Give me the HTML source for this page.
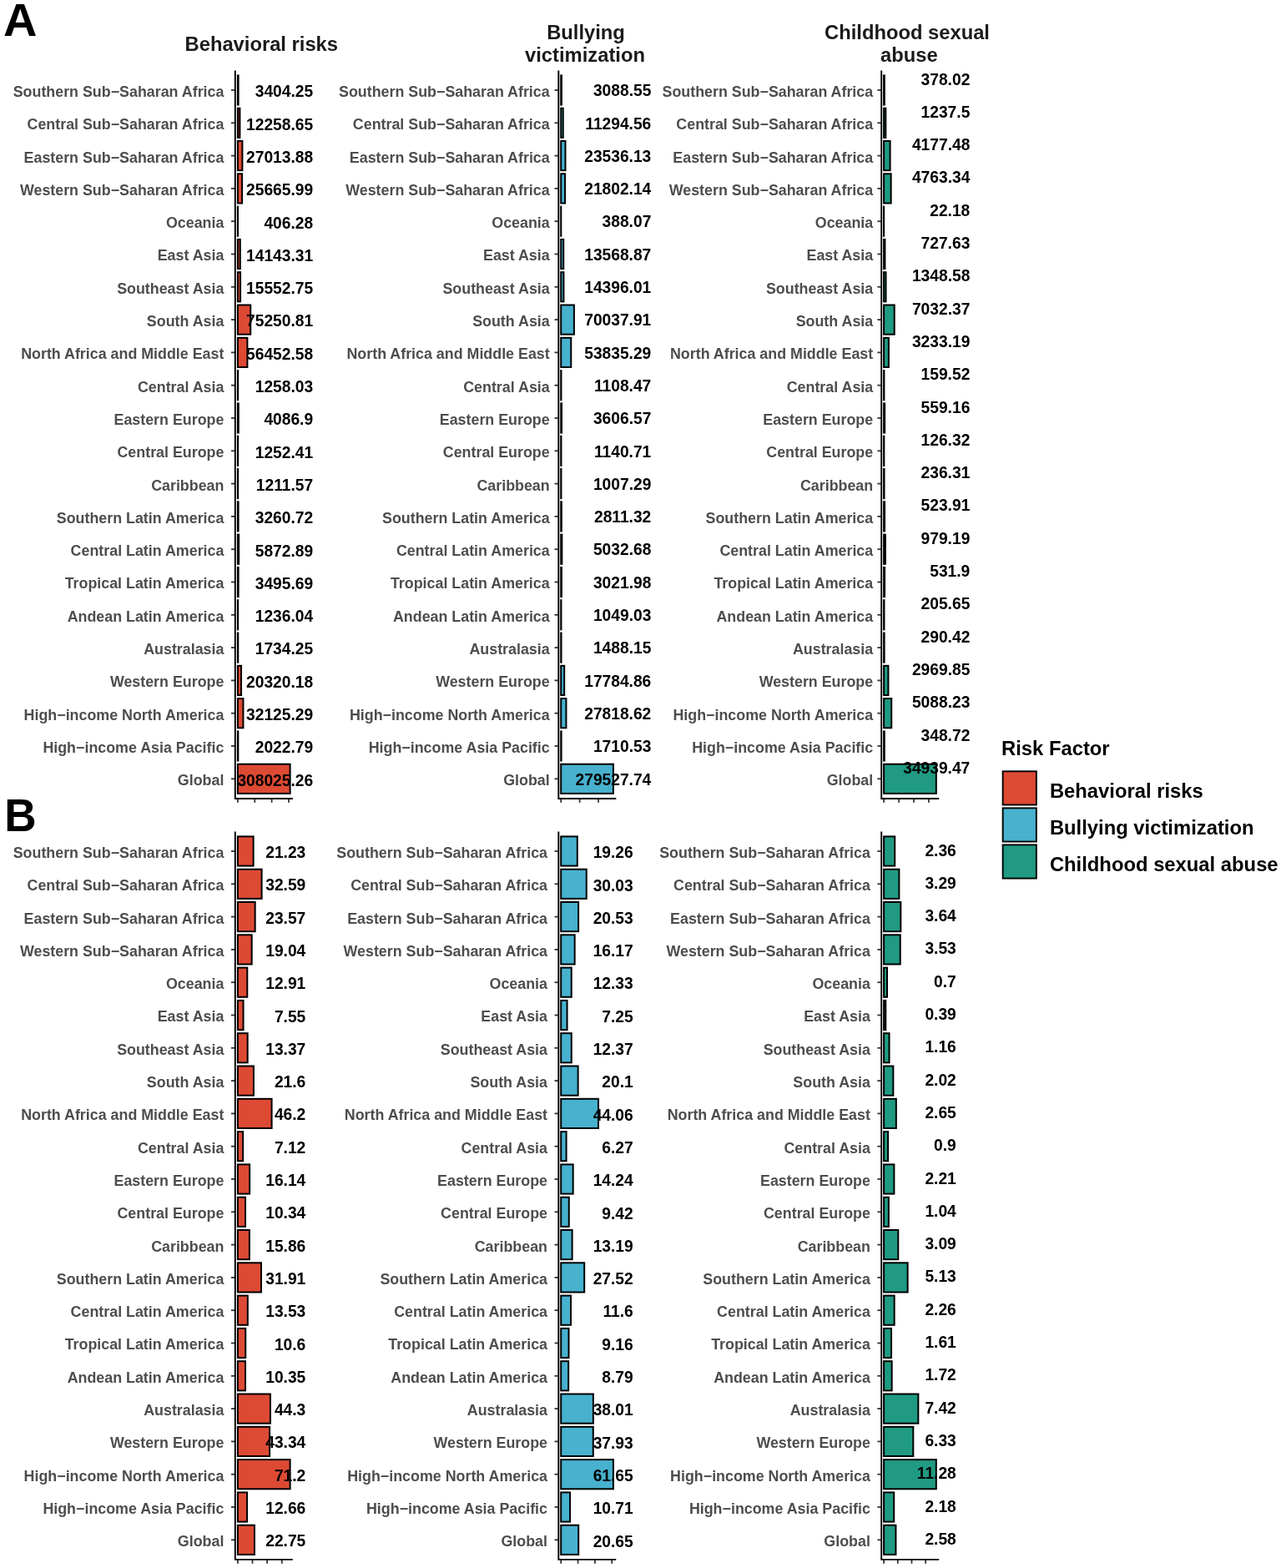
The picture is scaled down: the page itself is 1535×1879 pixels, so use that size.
<!DOCTYPE html>
<html lang="en">
<head>
<meta charset="utf-8">
<title>Risk factor burden by region</title>
<style>
html,body{margin:0;padding:0;background:#fff;}
body{width:1535px;height:1879px;overflow:hidden;}
svg{display:block;font-family:"Liberation Sans",Arial,Helvetica,sans-serif;font-weight:700;}
.lab text{font-size:17.85px;fill:#4D4D4D;}
.val text{font-size:19.2px;fill:#000;}
.ttl text{font-size:23.75px;fill:#1A1A1A;}
.leg text{font-size:23.8px;fill:#000;}
.tag text{font-size:56px;fill:#000;}
</style>
</head>
<body>
<svg width="1535" height="1879" viewBox="0 0 1535 1879">
<rect width="1535" height="1879" fill="#fff"/>
<g class="panel">
<g fill="#DD4A34" stroke="#000" stroke-width="2">
<rect x="284.9" y="90.4" width="0.69" height="35.2"/>
<rect x="284.9" y="129.7" width="2.5" height="35.2"/>
<rect x="284.9" y="169" width="5.5" height="35.2"/>
<rect x="284.9" y="208.3" width="5.22" height="35.2"/>
<rect x="284.9" y="247.6" width="0.08" height="35.2"/>
<rect x="284.9" y="286.9" width="2.88" height="35.2"/>
<rect x="284.9" y="326.2" width="3.17" height="35.2"/>
<rect x="284.9" y="365.5" width="15.32" height="35.2"/>
<rect x="284.9" y="404.8" width="11.49" height="35.2"/>
<rect x="284.9" y="444.1" width="0.26" height="35.2"/>
<rect x="284.9" y="483.4" width="0.83" height="35.2"/>
<rect x="284.9" y="522.7" width="0.25" height="35.2"/>
<rect x="284.9" y="562" width="0.25" height="35.2"/>
<rect x="284.9" y="601.3" width="0.66" height="35.2"/>
<rect x="284.9" y="640.6" width="1.2" height="35.2"/>
<rect x="284.9" y="679.9" width="0.71" height="35.2"/>
<rect x="284.9" y="719.2" width="0.25" height="35.2"/>
<rect x="284.9" y="758.5" width="0.35" height="35.2"/>
<rect x="284.9" y="797.8" width="4.14" height="35.2"/>
<rect x="284.9" y="837.1" width="6.54" height="35.2"/>
<rect x="284.9" y="876.4" width="0.41" height="35.2"/>
<rect x="284.9" y="915.7" width="62.7" height="35.2"/>
</g>
<g class="val" text-anchor="end">
<text transform="translate(375.1 116.3) scale(1 1.05)">3404.25</text>
<text transform="translate(375.1 155.6) scale(1 1.05)">12258.65</text>
<text transform="translate(375.1 194.9) scale(1 1.05)">27013.88</text>
<text transform="translate(375.1 234.2) scale(1 1.05)">25665.99</text>
<text transform="translate(375.1 273.5) scale(1 1.05)">406.28</text>
<text transform="translate(375.1 312.8) scale(1 1.05)">14143.31</text>
<text transform="translate(375.1 352.1) scale(1 1.05)">15552.75</text>
<text transform="translate(375.1 391.4) scale(1 1.05)">75250.81</text>
<text transform="translate(375.1 430.7) scale(1 1.05)">56452.58</text>
<text transform="translate(375.1 470) scale(1 1.05)">1258.03</text>
<text transform="translate(375.1 509.3) scale(1 1.05)">4086.9</text>
<text transform="translate(375.1 548.6) scale(1 1.05)">1252.41</text>
<text transform="translate(375.1 587.9) scale(1 1.05)">1211.57</text>
<text transform="translate(375.1 627.2) scale(1 1.05)">3260.72</text>
<text transform="translate(375.1 666.5) scale(1 1.05)">5872.89</text>
<text transform="translate(375.1 705.8) scale(1 1.05)">3495.69</text>
<text transform="translate(375.1 745.1) scale(1 1.05)">1236.04</text>
<text transform="translate(375.1 784.4) scale(1 1.05)">1734.25</text>
<text transform="translate(375.1 823.7) scale(1 1.05)">20320.18</text>
<text transform="translate(375.1 863) scale(1 1.05)">32125.29</text>
<text transform="translate(375.1 902.3) scale(1 1.05)">2022.79</text>
<text transform="translate(375.1 941.6) scale(1 1.05)">308025.26</text>
</g>
<g class="lab" text-anchor="end">
<text x="268.4" y="115.9">Southern Sub−Saharan Africa</text>
<text x="268.4" y="155.2">Central Sub−Saharan Africa</text>
<text x="268.4" y="194.5">Eastern Sub−Saharan Africa</text>
<text x="268.4" y="233.8">Western Sub−Saharan Africa</text>
<text x="268.4" y="273.1">Oceania</text>
<text x="268.4" y="312.4">East Asia</text>
<text x="268.4" y="351.7">Southeast Asia</text>
<text x="268.4" y="391">South Asia</text>
<text x="268.4" y="430.3">North Africa and Middle East</text>
<text x="268.4" y="469.6">Central Asia</text>
<text x="268.4" y="508.9">Eastern Europe</text>
<text x="268.4" y="548.2">Central Europe</text>
<text x="268.4" y="587.5">Caribbean</text>
<text x="268.4" y="626.8">Southern Latin America</text>
<text x="268.4" y="666.1">Central Latin America</text>
<text x="268.4" y="705.4">Tropical Latin America</text>
<text x="268.4" y="744.7">Andean Latin America</text>
<text x="268.4" y="784">Australasia</text>
<text x="268.4" y="823.3">Western Europe</text>
<text x="268.4" y="862.6">High−income North America</text>
<text x="268.4" y="901.9">High−income Asia Pacific</text>
<text x="268.4" y="941.2">Global</text>
</g>
<g stroke="#333333" stroke-width="1.8">
<line x1="277" y1="108" x2="281.8" y2="108"/>
<line x1="277" y1="147.3" x2="281.8" y2="147.3"/>
<line x1="277" y1="186.6" x2="281.8" y2="186.6"/>
<line x1="277" y1="225.9" x2="281.8" y2="225.9"/>
<line x1="277" y1="265.2" x2="281.8" y2="265.2"/>
<line x1="277" y1="304.5" x2="281.8" y2="304.5"/>
<line x1="277" y1="343.8" x2="281.8" y2="343.8"/>
<line x1="277" y1="383.1" x2="281.8" y2="383.1"/>
<line x1="277" y1="422.4" x2="281.8" y2="422.4"/>
<line x1="277" y1="461.7" x2="281.8" y2="461.7"/>
<line x1="277" y1="501" x2="281.8" y2="501"/>
<line x1="277" y1="540.3" x2="281.8" y2="540.3"/>
<line x1="277" y1="579.6" x2="281.8" y2="579.6"/>
<line x1="277" y1="618.9" x2="281.8" y2="618.9"/>
<line x1="277" y1="658.2" x2="281.8" y2="658.2"/>
<line x1="277" y1="697.5" x2="281.8" y2="697.5"/>
<line x1="277" y1="736.8" x2="281.8" y2="736.8"/>
<line x1="277" y1="776.1" x2="281.8" y2="776.1"/>
<line x1="277" y1="815.4" x2="281.8" y2="815.4"/>
<line x1="277" y1="854.7" x2="281.8" y2="854.7"/>
<line x1="277" y1="894" x2="281.8" y2="894"/>
<line x1="277" y1="933.3" x2="281.8" y2="933.3"/>
<line x1="284.9" y1="957" x2="284.9" y2="961.8"/>
<line x1="305.26" y1="957" x2="305.26" y2="961.8"/>
<line x1="325.61" y1="957" x2="325.61" y2="961.8"/>
<line x1="345.97" y1="957" x2="345.97" y2="961.8"/>
</g>
<polyline points="281.8,84.6 281.8,957 350.8,957" fill="none" stroke="#000" stroke-width="1.9"/>
</g>
<g class="panel">
<g fill="#47B1CE" stroke="#000" stroke-width="2">
<rect x="672.2" y="90.4" width="0.69" height="35.2"/>
<rect x="672.2" y="129.7" width="2.53" height="35.2"/>
<rect x="672.2" y="169" width="5.28" height="35.2"/>
<rect x="672.2" y="208.3" width="4.89" height="35.2"/>
<rect x="672.2" y="247.6" width="0.09" height="35.2"/>
<rect x="672.2" y="286.9" width="3.04" height="35.2"/>
<rect x="672.2" y="326.2" width="3.23" height="35.2"/>
<rect x="672.2" y="365.5" width="15.71" height="35.2"/>
<rect x="672.2" y="404.8" width="12.08" height="35.2"/>
<rect x="672.2" y="444.1" width="0.25" height="35.2"/>
<rect x="672.2" y="483.4" width="0.81" height="35.2"/>
<rect x="672.2" y="522.7" width="0.26" height="35.2"/>
<rect x="672.2" y="562" width="0.23" height="35.2"/>
<rect x="672.2" y="601.3" width="0.63" height="35.2"/>
<rect x="672.2" y="640.6" width="1.13" height="35.2"/>
<rect x="672.2" y="679.9" width="0.68" height="35.2"/>
<rect x="672.2" y="719.2" width="0.24" height="35.2"/>
<rect x="672.2" y="758.5" width="0.33" height="35.2"/>
<rect x="672.2" y="797.8" width="3.99" height="35.2"/>
<rect x="672.2" y="837.1" width="6.24" height="35.2"/>
<rect x="672.2" y="876.4" width="0.38" height="35.2"/>
<rect x="672.2" y="915.7" width="62.7" height="35.2"/>
</g>
<g class="val" text-anchor="end">
<text transform="translate(780.3 115.2) scale(1 1.05)">3088.55</text>
<text transform="translate(780.3 154.5) scale(1 1.05)">11294.56</text>
<text transform="translate(780.3 193.8) scale(1 1.05)">23536.13</text>
<text transform="translate(780.3 233.1) scale(1 1.05)">21802.14</text>
<text transform="translate(780.3 272.4) scale(1 1.05)">388.07</text>
<text transform="translate(780.3 311.7) scale(1 1.05)">13568.87</text>
<text transform="translate(780.3 351) scale(1 1.05)">14396.01</text>
<text transform="translate(780.3 390.3) scale(1 1.05)">70037.91</text>
<text transform="translate(780.3 429.6) scale(1 1.05)">53835.29</text>
<text transform="translate(780.3 468.9) scale(1 1.05)">1108.47</text>
<text transform="translate(780.3 508.2) scale(1 1.05)">3606.57</text>
<text transform="translate(780.3 547.5) scale(1 1.05)">1140.71</text>
<text transform="translate(780.3 586.8) scale(1 1.05)">1007.29</text>
<text transform="translate(780.3 626.1) scale(1 1.05)">2811.32</text>
<text transform="translate(780.3 665.4) scale(1 1.05)">5032.68</text>
<text transform="translate(780.3 704.7) scale(1 1.05)">3021.98</text>
<text transform="translate(780.3 744) scale(1 1.05)">1049.03</text>
<text transform="translate(780.3 783.3) scale(1 1.05)">1488.15</text>
<text transform="translate(780.3 822.6) scale(1 1.05)">17784.86</text>
<text transform="translate(780.3 861.9) scale(1 1.05)">27818.62</text>
<text transform="translate(780.3 901.2) scale(1 1.05)">1710.53</text>
<text transform="translate(780.3 940.5) scale(1 1.05)">279527.74</text>
</g>
<g class="lab" text-anchor="end">
<text x="658.7" y="115.9">Southern Sub−Saharan Africa</text>
<text x="658.7" y="155.2">Central Sub−Saharan Africa</text>
<text x="658.7" y="194.5">Eastern Sub−Saharan Africa</text>
<text x="658.7" y="233.8">Western Sub−Saharan Africa</text>
<text x="658.7" y="273.1">Oceania</text>
<text x="658.7" y="312.4">East Asia</text>
<text x="658.7" y="351.7">Southeast Asia</text>
<text x="658.7" y="391">South Asia</text>
<text x="658.7" y="430.3">North Africa and Middle East</text>
<text x="658.7" y="469.6">Central Asia</text>
<text x="658.7" y="508.9">Eastern Europe</text>
<text x="658.7" y="548.2">Central Europe</text>
<text x="658.7" y="587.5">Caribbean</text>
<text x="658.7" y="626.8">Southern Latin America</text>
<text x="658.7" y="666.1">Central Latin America</text>
<text x="658.7" y="705.4">Tropical Latin America</text>
<text x="658.7" y="744.7">Andean Latin America</text>
<text x="658.7" y="784">Australasia</text>
<text x="658.7" y="823.3">Western Europe</text>
<text x="658.7" y="862.6">High−income North America</text>
<text x="658.7" y="901.9">High−income Asia Pacific</text>
<text x="658.7" y="941.2">Global</text>
</g>
<g stroke="#333333" stroke-width="1.8">
<line x1="664.5" y1="108" x2="669.3" y2="108"/>
<line x1="664.5" y1="147.3" x2="669.3" y2="147.3"/>
<line x1="664.5" y1="186.6" x2="669.3" y2="186.6"/>
<line x1="664.5" y1="225.9" x2="669.3" y2="225.9"/>
<line x1="664.5" y1="265.2" x2="669.3" y2="265.2"/>
<line x1="664.5" y1="304.5" x2="669.3" y2="304.5"/>
<line x1="664.5" y1="343.8" x2="669.3" y2="343.8"/>
<line x1="664.5" y1="383.1" x2="669.3" y2="383.1"/>
<line x1="664.5" y1="422.4" x2="669.3" y2="422.4"/>
<line x1="664.5" y1="461.7" x2="669.3" y2="461.7"/>
<line x1="664.5" y1="501" x2="669.3" y2="501"/>
<line x1="664.5" y1="540.3" x2="669.3" y2="540.3"/>
<line x1="664.5" y1="579.6" x2="669.3" y2="579.6"/>
<line x1="664.5" y1="618.9" x2="669.3" y2="618.9"/>
<line x1="664.5" y1="658.2" x2="669.3" y2="658.2"/>
<line x1="664.5" y1="697.5" x2="669.3" y2="697.5"/>
<line x1="664.5" y1="736.8" x2="669.3" y2="736.8"/>
<line x1="664.5" y1="776.1" x2="669.3" y2="776.1"/>
<line x1="664.5" y1="815.4" x2="669.3" y2="815.4"/>
<line x1="664.5" y1="854.7" x2="669.3" y2="854.7"/>
<line x1="664.5" y1="894" x2="669.3" y2="894"/>
<line x1="664.5" y1="933.3" x2="669.3" y2="933.3"/>
<line x1="672.2" y1="957" x2="672.2" y2="961.8"/>
<line x1="694.63" y1="957" x2="694.63" y2="961.8"/>
<line x1="717.06" y1="957" x2="717.06" y2="961.8"/>
</g>
<polyline points="669.3,84.6 669.3,957 738.3,957" fill="none" stroke="#000" stroke-width="1.9"/>
</g>
<g class="panel">
<g fill="#209A82" stroke="#000" stroke-width="2">
<rect x="1059.1" y="90.4" width="0.68" height="35.2"/>
<rect x="1059.1" y="129.7" width="2.22" height="35.2"/>
<rect x="1059.1" y="169" width="7.5" height="35.2"/>
<rect x="1059.1" y="208.3" width="8.55" height="35.2"/>
<rect x="1059.1" y="247.6" width="0.04" height="35.2"/>
<rect x="1059.1" y="286.9" width="1.31" height="35.2"/>
<rect x="1059.1" y="326.2" width="2.42" height="35.2"/>
<rect x="1059.1" y="365.5" width="12.62" height="35.2"/>
<rect x="1059.1" y="404.8" width="5.8" height="35.2"/>
<rect x="1059.1" y="444.1" width="0.29" height="35.2"/>
<rect x="1059.1" y="483.4" width="1" height="35.2"/>
<rect x="1059.1" y="522.7" width="0.23" height="35.2"/>
<rect x="1059.1" y="562" width="0.42" height="35.2"/>
<rect x="1059.1" y="601.3" width="0.94" height="35.2"/>
<rect x="1059.1" y="640.6" width="1.76" height="35.2"/>
<rect x="1059.1" y="679.9" width="0.95" height="35.2"/>
<rect x="1059.1" y="719.2" width="0.37" height="35.2"/>
<rect x="1059.1" y="758.5" width="0.52" height="35.2"/>
<rect x="1059.1" y="797.8" width="5.33" height="35.2"/>
<rect x="1059.1" y="837.1" width="9.13" height="35.2"/>
<rect x="1059.1" y="876.4" width="0.63" height="35.2"/>
<rect x="1059.1" y="915.7" width="62.7" height="35.2"/>
</g>
<g class="val" text-anchor="end">
<text transform="translate(1162.3 101.5) scale(1 1.05)">378.02</text>
<text transform="translate(1162.3 140.8) scale(1 1.05)">1237.5</text>
<text transform="translate(1162.3 180.1) scale(1 1.05)">4177.48</text>
<text transform="translate(1162.3 219.4) scale(1 1.05)">4763.34</text>
<text transform="translate(1162.3 258.7) scale(1 1.05)">22.18</text>
<text transform="translate(1162.3 298) scale(1 1.05)">727.63</text>
<text transform="translate(1162.3 337.3) scale(1 1.05)">1348.58</text>
<text transform="translate(1162.3 376.6) scale(1 1.05)">7032.37</text>
<text transform="translate(1162.3 415.9) scale(1 1.05)">3233.19</text>
<text transform="translate(1162.3 455.2) scale(1 1.05)">159.52</text>
<text transform="translate(1162.3 494.5) scale(1 1.05)">559.16</text>
<text transform="translate(1162.3 533.8) scale(1 1.05)">126.32</text>
<text transform="translate(1162.3 573.1) scale(1 1.05)">236.31</text>
<text transform="translate(1162.3 612.4) scale(1 1.05)">523.91</text>
<text transform="translate(1162.3 651.7) scale(1 1.05)">979.19</text>
<text transform="translate(1162.3 691) scale(1 1.05)">531.9</text>
<text transform="translate(1162.3 730.3) scale(1 1.05)">205.65</text>
<text transform="translate(1162.3 769.6) scale(1 1.05)">290.42</text>
<text transform="translate(1162.3 808.9) scale(1 1.05)">2969.85</text>
<text transform="translate(1162.3 848.2) scale(1 1.05)">5088.23</text>
<text transform="translate(1162.3 887.5) scale(1 1.05)">348.72</text>
<text transform="translate(1162.3 926.8) scale(1 1.05)">34939.47</text>
</g>
<g class="lab" text-anchor="end">
<text x="1046.2" y="115.9">Southern Sub−Saharan Africa</text>
<text x="1046.2" y="155.2">Central Sub−Saharan Africa</text>
<text x="1046.2" y="194.5">Eastern Sub−Saharan Africa</text>
<text x="1046.2" y="233.8">Western Sub−Saharan Africa</text>
<text x="1046.2" y="273.1">Oceania</text>
<text x="1046.2" y="312.4">East Asia</text>
<text x="1046.2" y="351.7">Southeast Asia</text>
<text x="1046.2" y="391">South Asia</text>
<text x="1046.2" y="430.3">North Africa and Middle East</text>
<text x="1046.2" y="469.6">Central Asia</text>
<text x="1046.2" y="508.9">Eastern Europe</text>
<text x="1046.2" y="548.2">Central Europe</text>
<text x="1046.2" y="587.5">Caribbean</text>
<text x="1046.2" y="626.8">Southern Latin America</text>
<text x="1046.2" y="666.1">Central Latin America</text>
<text x="1046.2" y="705.4">Tropical Latin America</text>
<text x="1046.2" y="744.7">Andean Latin America</text>
<text x="1046.2" y="784">Australasia</text>
<text x="1046.2" y="823.3">Western Europe</text>
<text x="1046.2" y="862.6">High−income North America</text>
<text x="1046.2" y="901.9">High−income Asia Pacific</text>
<text x="1046.2" y="941.2">Global</text>
</g>
<g stroke="#333333" stroke-width="1.8">
<line x1="1051.4" y1="108" x2="1056.2" y2="108"/>
<line x1="1051.4" y1="147.3" x2="1056.2" y2="147.3"/>
<line x1="1051.4" y1="186.6" x2="1056.2" y2="186.6"/>
<line x1="1051.4" y1="225.9" x2="1056.2" y2="225.9"/>
<line x1="1051.4" y1="265.2" x2="1056.2" y2="265.2"/>
<line x1="1051.4" y1="304.5" x2="1056.2" y2="304.5"/>
<line x1="1051.4" y1="343.8" x2="1056.2" y2="343.8"/>
<line x1="1051.4" y1="383.1" x2="1056.2" y2="383.1"/>
<line x1="1051.4" y1="422.4" x2="1056.2" y2="422.4"/>
<line x1="1051.4" y1="461.7" x2="1056.2" y2="461.7"/>
<line x1="1051.4" y1="501" x2="1056.2" y2="501"/>
<line x1="1051.4" y1="540.3" x2="1056.2" y2="540.3"/>
<line x1="1051.4" y1="579.6" x2="1056.2" y2="579.6"/>
<line x1="1051.4" y1="618.9" x2="1056.2" y2="618.9"/>
<line x1="1051.4" y1="658.2" x2="1056.2" y2="658.2"/>
<line x1="1051.4" y1="697.5" x2="1056.2" y2="697.5"/>
<line x1="1051.4" y1="736.8" x2="1056.2" y2="736.8"/>
<line x1="1051.4" y1="776.1" x2="1056.2" y2="776.1"/>
<line x1="1051.4" y1="815.4" x2="1056.2" y2="815.4"/>
<line x1="1051.4" y1="854.7" x2="1056.2" y2="854.7"/>
<line x1="1051.4" y1="894" x2="1056.2" y2="894"/>
<line x1="1051.4" y1="933.3" x2="1056.2" y2="933.3"/>
<line x1="1059.1" y1="957" x2="1059.1" y2="961.8"/>
<line x1="1077.05" y1="957" x2="1077.05" y2="961.8"/>
<line x1="1094.99" y1="957" x2="1094.99" y2="961.8"/>
<line x1="1112.94" y1="957" x2="1112.94" y2="961.8"/>
</g>
<polyline points="1056.2,84.6 1056.2,957 1125.2,957" fill="none" stroke="#000" stroke-width="1.9"/>
</g>
<g class="panel">
<g fill="#DD4A34" stroke="#000" stroke-width="2">
<rect x="284.9" y="1002.4" width="18.7" height="35.2"/>
<rect x="284.9" y="1041.7" width="28.7" height="35.2"/>
<rect x="284.9" y="1081" width="20.76" height="35.2"/>
<rect x="284.9" y="1120.3" width="16.77" height="35.2"/>
<rect x="284.9" y="1159.6" width="11.37" height="35.2"/>
<rect x="284.9" y="1198.9" width="6.65" height="35.2"/>
<rect x="284.9" y="1238.2" width="11.77" height="35.2"/>
<rect x="284.9" y="1277.5" width="19.02" height="35.2"/>
<rect x="284.9" y="1316.8" width="40.68" height="35.2"/>
<rect x="284.9" y="1356.1" width="6.27" height="35.2"/>
<rect x="284.9" y="1395.4" width="14.21" height="35.2"/>
<rect x="284.9" y="1434.7" width="9.11" height="35.2"/>
<rect x="284.9" y="1474" width="13.97" height="35.2"/>
<rect x="284.9" y="1513.3" width="28.1" height="35.2"/>
<rect x="284.9" y="1552.6" width="11.91" height="35.2"/>
<rect x="284.9" y="1591.9" width="9.33" height="35.2"/>
<rect x="284.9" y="1631.2" width="9.11" height="35.2"/>
<rect x="284.9" y="1670.5" width="39.01" height="35.2"/>
<rect x="284.9" y="1709.8" width="38.17" height="35.2"/>
<rect x="284.9" y="1749.1" width="62.7" height="35.2"/>
<rect x="284.9" y="1788.4" width="11.15" height="35.2"/>
<rect x="284.9" y="1827.7" width="20.03" height="35.2"/>
</g>
<g class="val" text-anchor="end">
<text transform="translate(366.3 1028) scale(1 1.05)">21.23</text>
<text transform="translate(366.3 1067.3) scale(1 1.05)">32.59</text>
<text transform="translate(366.3 1106.6) scale(1 1.05)">23.57</text>
<text transform="translate(366.3 1145.9) scale(1 1.05)">19.04</text>
<text transform="translate(366.3 1185.2) scale(1 1.05)">12.91</text>
<text transform="translate(366.3 1224.5) scale(1 1.05)">7.55</text>
<text transform="translate(366.3 1263.8) scale(1 1.05)">13.37</text>
<text transform="translate(366.3 1303.1) scale(1 1.05)">21.6</text>
<text transform="translate(366.3 1342.4) scale(1 1.05)">46.2</text>
<text transform="translate(366.3 1381.7) scale(1 1.05)">7.12</text>
<text transform="translate(366.3 1421) scale(1 1.05)">16.14</text>
<text transform="translate(366.3 1460.3) scale(1 1.05)">10.34</text>
<text transform="translate(366.3 1499.6) scale(1 1.05)">15.86</text>
<text transform="translate(366.3 1538.9) scale(1 1.05)">31.91</text>
<text transform="translate(366.3 1578.2) scale(1 1.05)">13.53</text>
<text transform="translate(366.3 1617.5) scale(1 1.05)">10.6</text>
<text transform="translate(366.3 1656.8) scale(1 1.05)">10.35</text>
<text transform="translate(366.3 1696.1) scale(1 1.05)">44.3</text>
<text transform="translate(366.3 1735.4) scale(1 1.05)">43.34</text>
<text transform="translate(366.3 1774.7) scale(1 1.05)">71.2</text>
<text transform="translate(366.3 1814) scale(1 1.05)">12.66</text>
<text transform="translate(366.3 1853.3) scale(1 1.05)">22.75</text>
</g>
<g class="lab" text-anchor="end">
<text x="268.4" y="1027.9">Southern Sub−Saharan Africa</text>
<text x="268.4" y="1067.2">Central Sub−Saharan Africa</text>
<text x="268.4" y="1106.5">Eastern Sub−Saharan Africa</text>
<text x="268.4" y="1145.8">Western Sub−Saharan Africa</text>
<text x="268.4" y="1185.1">Oceania</text>
<text x="268.4" y="1224.4">East Asia</text>
<text x="268.4" y="1263.7">Southeast Asia</text>
<text x="268.4" y="1303">South Asia</text>
<text x="268.4" y="1342.3">North Africa and Middle East</text>
<text x="268.4" y="1381.6">Central Asia</text>
<text x="268.4" y="1420.9">Eastern Europe</text>
<text x="268.4" y="1460.2">Central Europe</text>
<text x="268.4" y="1499.5">Caribbean</text>
<text x="268.4" y="1538.8">Southern Latin America</text>
<text x="268.4" y="1578.1">Central Latin America</text>
<text x="268.4" y="1617.4">Tropical Latin America</text>
<text x="268.4" y="1656.7">Andean Latin America</text>
<text x="268.4" y="1696">Australasia</text>
<text x="268.4" y="1735.3">Western Europe</text>
<text x="268.4" y="1774.6">High−income North America</text>
<text x="268.4" y="1813.9">High−income Asia Pacific</text>
<text x="268.4" y="1853.2">Global</text>
</g>
<g stroke="#333333" stroke-width="1.8">
<line x1="277" y1="1020" x2="281.8" y2="1020"/>
<line x1="277" y1="1059.3" x2="281.8" y2="1059.3"/>
<line x1="277" y1="1098.6" x2="281.8" y2="1098.6"/>
<line x1="277" y1="1137.9" x2="281.8" y2="1137.9"/>
<line x1="277" y1="1177.2" x2="281.8" y2="1177.2"/>
<line x1="277" y1="1216.5" x2="281.8" y2="1216.5"/>
<line x1="277" y1="1255.8" x2="281.8" y2="1255.8"/>
<line x1="277" y1="1295.1" x2="281.8" y2="1295.1"/>
<line x1="277" y1="1334.4" x2="281.8" y2="1334.4"/>
<line x1="277" y1="1373.7" x2="281.8" y2="1373.7"/>
<line x1="277" y1="1413" x2="281.8" y2="1413"/>
<line x1="277" y1="1452.3" x2="281.8" y2="1452.3"/>
<line x1="277" y1="1491.6" x2="281.8" y2="1491.6"/>
<line x1="277" y1="1530.9" x2="281.8" y2="1530.9"/>
<line x1="277" y1="1570.2" x2="281.8" y2="1570.2"/>
<line x1="277" y1="1609.5" x2="281.8" y2="1609.5"/>
<line x1="277" y1="1648.8" x2="281.8" y2="1648.8"/>
<line x1="277" y1="1688.1" x2="281.8" y2="1688.1"/>
<line x1="277" y1="1727.4" x2="281.8" y2="1727.4"/>
<line x1="277" y1="1766.7" x2="281.8" y2="1766.7"/>
<line x1="277" y1="1806" x2="281.8" y2="1806"/>
<line x1="277" y1="1845.3" x2="281.8" y2="1845.3"/>
<line x1="284.9" y1="1868.9" x2="284.9" y2="1873.7"/>
<line x1="302.51" y1="1868.9" x2="302.51" y2="1873.7"/>
<line x1="320.12" y1="1868.9" x2="320.12" y2="1873.7"/>
<line x1="337.74" y1="1868.9" x2="337.74" y2="1873.7"/>
</g>
<polyline points="281.8,996.4 281.8,1868.9 350.8,1868.9" fill="none" stroke="#000" stroke-width="1.9"/>
</g>
<g class="panel">
<g fill="#47B1CE" stroke="#000" stroke-width="2">
<rect x="672.2" y="1002.4" width="19.59" height="35.2"/>
<rect x="672.2" y="1041.7" width="30.54" height="35.2"/>
<rect x="672.2" y="1081" width="20.88" height="35.2"/>
<rect x="672.2" y="1120.3" width="16.45" height="35.2"/>
<rect x="672.2" y="1159.6" width="12.54" height="35.2"/>
<rect x="672.2" y="1198.9" width="7.37" height="35.2"/>
<rect x="672.2" y="1238.2" width="12.58" height="35.2"/>
<rect x="672.2" y="1277.5" width="20.44" height="35.2"/>
<rect x="672.2" y="1316.8" width="44.81" height="35.2"/>
<rect x="672.2" y="1356.1" width="6.38" height="35.2"/>
<rect x="672.2" y="1395.4" width="14.48" height="35.2"/>
<rect x="672.2" y="1434.7" width="9.58" height="35.2"/>
<rect x="672.2" y="1474" width="13.41" height="35.2"/>
<rect x="672.2" y="1513.3" width="27.99" height="35.2"/>
<rect x="672.2" y="1552.6" width="11.8" height="35.2"/>
<rect x="672.2" y="1591.9" width="9.32" height="35.2"/>
<rect x="672.2" y="1631.2" width="8.94" height="35.2"/>
<rect x="672.2" y="1670.5" width="38.66" height="35.2"/>
<rect x="672.2" y="1709.8" width="38.58" height="35.2"/>
<rect x="672.2" y="1749.1" width="62.7" height="35.2"/>
<rect x="672.2" y="1788.4" width="10.89" height="35.2"/>
<rect x="672.2" y="1827.7" width="21" height="35.2"/>
</g>
<g class="val" text-anchor="end">
<text transform="translate(758.7 1028.2) scale(1 1.05)">19.26</text>
<text transform="translate(758.7 1067.5) scale(1 1.05)">30.03</text>
<text transform="translate(758.7 1106.8) scale(1 1.05)">20.53</text>
<text transform="translate(758.7 1146.1) scale(1 1.05)">16.17</text>
<text transform="translate(758.7 1185.4) scale(1 1.05)">12.33</text>
<text transform="translate(758.7 1224.7) scale(1 1.05)">7.25</text>
<text transform="translate(758.7 1264) scale(1 1.05)">12.37</text>
<text transform="translate(758.7 1303.3) scale(1 1.05)">20.1</text>
<text transform="translate(758.7 1342.6) scale(1 1.05)">44.06</text>
<text transform="translate(758.7 1381.9) scale(1 1.05)">6.27</text>
<text transform="translate(758.7 1421.2) scale(1 1.05)">14.24</text>
<text transform="translate(758.7 1460.5) scale(1 1.05)">9.42</text>
<text transform="translate(758.7 1499.8) scale(1 1.05)">13.19</text>
<text transform="translate(758.7 1539.1) scale(1 1.05)">27.52</text>
<text transform="translate(758.7 1578.4) scale(1 1.05)">11.6</text>
<text transform="translate(758.7 1617.7) scale(1 1.05)">9.16</text>
<text transform="translate(758.7 1657) scale(1 1.05)">8.79</text>
<text transform="translate(758.7 1696.3) scale(1 1.05)">38.01</text>
<text transform="translate(758.7 1735.6) scale(1 1.05)">37.93</text>
<text transform="translate(758.7 1774.9) scale(1 1.05)">61.65</text>
<text transform="translate(758.7 1814.2) scale(1 1.05)">10.71</text>
<text transform="translate(758.7 1853.5) scale(1 1.05)">20.65</text>
</g>
<g class="lab" text-anchor="end">
<text x="656" y="1027.9">Southern Sub−Saharan Africa</text>
<text x="656" y="1067.2">Central Sub−Saharan Africa</text>
<text x="656" y="1106.5">Eastern Sub−Saharan Africa</text>
<text x="656" y="1145.8">Western Sub−Saharan Africa</text>
<text x="656" y="1185.1">Oceania</text>
<text x="656" y="1224.4">East Asia</text>
<text x="656" y="1263.7">Southeast Asia</text>
<text x="656" y="1303">South Asia</text>
<text x="656" y="1342.3">North Africa and Middle East</text>
<text x="656" y="1381.6">Central Asia</text>
<text x="656" y="1420.9">Eastern Europe</text>
<text x="656" y="1460.2">Central Europe</text>
<text x="656" y="1499.5">Caribbean</text>
<text x="656" y="1538.8">Southern Latin America</text>
<text x="656" y="1578.1">Central Latin America</text>
<text x="656" y="1617.4">Tropical Latin America</text>
<text x="656" y="1656.7">Andean Latin America</text>
<text x="656" y="1696">Australasia</text>
<text x="656" y="1735.3">Western Europe</text>
<text x="656" y="1774.6">High−income North America</text>
<text x="656" y="1813.9">High−income Asia Pacific</text>
<text x="656" y="1853.2">Global</text>
</g>
<g stroke="#333333" stroke-width="1.8">
<line x1="664.5" y1="1020" x2="669.3" y2="1020"/>
<line x1="664.5" y1="1059.3" x2="669.3" y2="1059.3"/>
<line x1="664.5" y1="1098.6" x2="669.3" y2="1098.6"/>
<line x1="664.5" y1="1137.9" x2="669.3" y2="1137.9"/>
<line x1="664.5" y1="1177.2" x2="669.3" y2="1177.2"/>
<line x1="664.5" y1="1216.5" x2="669.3" y2="1216.5"/>
<line x1="664.5" y1="1255.8" x2="669.3" y2="1255.8"/>
<line x1="664.5" y1="1295.1" x2="669.3" y2="1295.1"/>
<line x1="664.5" y1="1334.4" x2="669.3" y2="1334.4"/>
<line x1="664.5" y1="1373.7" x2="669.3" y2="1373.7"/>
<line x1="664.5" y1="1413" x2="669.3" y2="1413"/>
<line x1="664.5" y1="1452.3" x2="669.3" y2="1452.3"/>
<line x1="664.5" y1="1491.6" x2="669.3" y2="1491.6"/>
<line x1="664.5" y1="1530.9" x2="669.3" y2="1530.9"/>
<line x1="664.5" y1="1570.2" x2="669.3" y2="1570.2"/>
<line x1="664.5" y1="1609.5" x2="669.3" y2="1609.5"/>
<line x1="664.5" y1="1648.8" x2="669.3" y2="1648.8"/>
<line x1="664.5" y1="1688.1" x2="669.3" y2="1688.1"/>
<line x1="664.5" y1="1727.4" x2="669.3" y2="1727.4"/>
<line x1="664.5" y1="1766.7" x2="669.3" y2="1766.7"/>
<line x1="664.5" y1="1806" x2="669.3" y2="1806"/>
<line x1="664.5" y1="1845.3" x2="669.3" y2="1845.3"/>
<line x1="672.2" y1="1868.9" x2="672.2" y2="1873.7"/>
<line x1="692.54" y1="1868.9" x2="692.54" y2="1873.7"/>
<line x1="712.88" y1="1868.9" x2="712.88" y2="1873.7"/>
<line x1="733.22" y1="1868.9" x2="733.22" y2="1873.7"/>
</g>
<polyline points="669.3,996.4 669.3,1868.9 738.3,1868.9" fill="none" stroke="#000" stroke-width="1.9"/>
</g>
<g class="panel">
<g fill="#209A82" stroke="#000" stroke-width="2">
<rect x="1059.1" y="1002.4" width="13.12" height="35.2"/>
<rect x="1059.1" y="1041.7" width="18.29" height="35.2"/>
<rect x="1059.1" y="1081" width="20.23" height="35.2"/>
<rect x="1059.1" y="1120.3" width="19.62" height="35.2"/>
<rect x="1059.1" y="1159.6" width="3.89" height="35.2"/>
<rect x="1059.1" y="1198.9" width="2.17" height="35.2"/>
<rect x="1059.1" y="1238.2" width="6.45" height="35.2"/>
<rect x="1059.1" y="1277.5" width="11.23" height="35.2"/>
<rect x="1059.1" y="1316.8" width="14.73" height="35.2"/>
<rect x="1059.1" y="1356.1" width="5" height="35.2"/>
<rect x="1059.1" y="1395.4" width="12.28" height="35.2"/>
<rect x="1059.1" y="1434.7" width="5.78" height="35.2"/>
<rect x="1059.1" y="1474" width="17.18" height="35.2"/>
<rect x="1059.1" y="1513.3" width="28.52" height="35.2"/>
<rect x="1059.1" y="1552.6" width="12.56" height="35.2"/>
<rect x="1059.1" y="1591.9" width="8.95" height="35.2"/>
<rect x="1059.1" y="1631.2" width="9.56" height="35.2"/>
<rect x="1059.1" y="1670.5" width="41.24" height="35.2"/>
<rect x="1059.1" y="1709.8" width="35.19" height="35.2"/>
<rect x="1059.1" y="1749.1" width="62.7" height="35.2"/>
<rect x="1059.1" y="1788.4" width="12.12" height="35.2"/>
<rect x="1059.1" y="1827.7" width="14.34" height="35.2"/>
</g>
<g class="val" text-anchor="end">
<text transform="translate(1145.8 1025.5) scale(1 1.05)">2.36</text>
<text transform="translate(1145.8 1064.8) scale(1 1.05)">3.29</text>
<text transform="translate(1145.8 1104.1) scale(1 1.05)">3.64</text>
<text transform="translate(1145.8 1143.4) scale(1 1.05)">3.53</text>
<text transform="translate(1145.8 1182.7) scale(1 1.05)">0.7</text>
<text transform="translate(1145.8 1222) scale(1 1.05)">0.39</text>
<text transform="translate(1145.8 1261.3) scale(1 1.05)">1.16</text>
<text transform="translate(1145.8 1300.6) scale(1 1.05)">2.02</text>
<text transform="translate(1145.8 1339.9) scale(1 1.05)">2.65</text>
<text transform="translate(1145.8 1379.2) scale(1 1.05)">0.9</text>
<text transform="translate(1145.8 1418.5) scale(1 1.05)">2.21</text>
<text transform="translate(1145.8 1457.8) scale(1 1.05)">1.04</text>
<text transform="translate(1145.8 1497.1) scale(1 1.05)">3.09</text>
<text transform="translate(1145.8 1536.4) scale(1 1.05)">5.13</text>
<text transform="translate(1145.8 1575.7) scale(1 1.05)">2.26</text>
<text transform="translate(1145.8 1615) scale(1 1.05)">1.61</text>
<text transform="translate(1145.8 1654.3) scale(1 1.05)">1.72</text>
<text transform="translate(1145.8 1693.6) scale(1 1.05)">7.42</text>
<text transform="translate(1145.8 1732.9) scale(1 1.05)">6.33</text>
<text transform="translate(1145.8 1772.2) scale(1 1.05)">11.28</text>
<text transform="translate(1145.8 1811.5) scale(1 1.05)">2.18</text>
<text transform="translate(1145.8 1850.8) scale(1 1.05)">2.58</text>
</g>
<g class="lab" text-anchor="end">
<text x="1042.9" y="1027.9">Southern Sub−Saharan Africa</text>
<text x="1042.9" y="1067.2">Central Sub−Saharan Africa</text>
<text x="1042.9" y="1106.5">Eastern Sub−Saharan Africa</text>
<text x="1042.9" y="1145.8">Western Sub−Saharan Africa</text>
<text x="1042.9" y="1185.1">Oceania</text>
<text x="1042.9" y="1224.4">East Asia</text>
<text x="1042.9" y="1263.7">Southeast Asia</text>
<text x="1042.9" y="1303">South Asia</text>
<text x="1042.9" y="1342.3">North Africa and Middle East</text>
<text x="1042.9" y="1381.6">Central Asia</text>
<text x="1042.9" y="1420.9">Eastern Europe</text>
<text x="1042.9" y="1460.2">Central Europe</text>
<text x="1042.9" y="1499.5">Caribbean</text>
<text x="1042.9" y="1538.8">Southern Latin America</text>
<text x="1042.9" y="1578.1">Central Latin America</text>
<text x="1042.9" y="1617.4">Tropical Latin America</text>
<text x="1042.9" y="1656.7">Andean Latin America</text>
<text x="1042.9" y="1696">Australasia</text>
<text x="1042.9" y="1735.3">Western Europe</text>
<text x="1042.9" y="1774.6">High−income North America</text>
<text x="1042.9" y="1813.9">High−income Asia Pacific</text>
<text x="1042.9" y="1853.2">Global</text>
</g>
<g stroke="#333333" stroke-width="1.8">
<line x1="1051.4" y1="1020" x2="1056.2" y2="1020"/>
<line x1="1051.4" y1="1059.3" x2="1056.2" y2="1059.3"/>
<line x1="1051.4" y1="1098.6" x2="1056.2" y2="1098.6"/>
<line x1="1051.4" y1="1137.9" x2="1056.2" y2="1137.9"/>
<line x1="1051.4" y1="1177.2" x2="1056.2" y2="1177.2"/>
<line x1="1051.4" y1="1216.5" x2="1056.2" y2="1216.5"/>
<line x1="1051.4" y1="1255.8" x2="1056.2" y2="1255.8"/>
<line x1="1051.4" y1="1295.1" x2="1056.2" y2="1295.1"/>
<line x1="1051.4" y1="1334.4" x2="1056.2" y2="1334.4"/>
<line x1="1051.4" y1="1373.7" x2="1056.2" y2="1373.7"/>
<line x1="1051.4" y1="1413" x2="1056.2" y2="1413"/>
<line x1="1051.4" y1="1452.3" x2="1056.2" y2="1452.3"/>
<line x1="1051.4" y1="1491.6" x2="1056.2" y2="1491.6"/>
<line x1="1051.4" y1="1530.9" x2="1056.2" y2="1530.9"/>
<line x1="1051.4" y1="1570.2" x2="1056.2" y2="1570.2"/>
<line x1="1051.4" y1="1609.5" x2="1056.2" y2="1609.5"/>
<line x1="1051.4" y1="1648.8" x2="1056.2" y2="1648.8"/>
<line x1="1051.4" y1="1688.1" x2="1056.2" y2="1688.1"/>
<line x1="1051.4" y1="1727.4" x2="1056.2" y2="1727.4"/>
<line x1="1051.4" y1="1766.7" x2="1056.2" y2="1766.7"/>
<line x1="1051.4" y1="1806" x2="1056.2" y2="1806"/>
<line x1="1051.4" y1="1845.3" x2="1056.2" y2="1845.3"/>
<line x1="1059.1" y1="1868.9" x2="1059.1" y2="1873.7"/>
<line x1="1075.78" y1="1868.9" x2="1075.78" y2="1873.7"/>
<line x1="1092.45" y1="1868.9" x2="1092.45" y2="1873.7"/>
<line x1="1109.13" y1="1868.9" x2="1109.13" y2="1873.7"/>
</g>
<polyline points="1056.2,996.4 1056.2,1868.9 1125.2,1868.9" fill="none" stroke="#000" stroke-width="1.9"/>
</g>
<g class="ttl" text-anchor="middle">
<text x="313.3" y="60.5">Behavioral risks</text>
<text x="702" y="47.3">Bullying</text>
<text x="701" y="73.9">victimization</text>
<text x="1087" y="47.3">Childhood sexual</text>
<text x="1089.4" y="73.9">abuse</text>
</g>
<g class="tag"><text x="4" y="43.4">A</text><text transform="translate(5.2 996.1) scale(0.95 1)">B</text></g>
<g class="leg">
<text x="1200" y="904.7">Risk Factor</text>
<rect x="1201.65" y="924.3" width="40.2" height="40.2" fill="#DD4A34" stroke="#000" stroke-width="1.9"/>
<text x="1257.9" y="955.6">Behavioral risks</text>
<rect x="1201.65" y="968.35" width="40.2" height="40.2" fill="#47B1CE" stroke="#000" stroke-width="1.9"/>
<text x="1257.9" y="999.65">Bullying victimization</text>
<rect x="1201.65" y="1012.4" width="40.2" height="40.2" fill="#209A82" stroke="#000" stroke-width="1.9"/>
<text x="1257.9" y="1043.7">Childhood sexual abuse</text>
</g>
</svg>
</body>
</html>
